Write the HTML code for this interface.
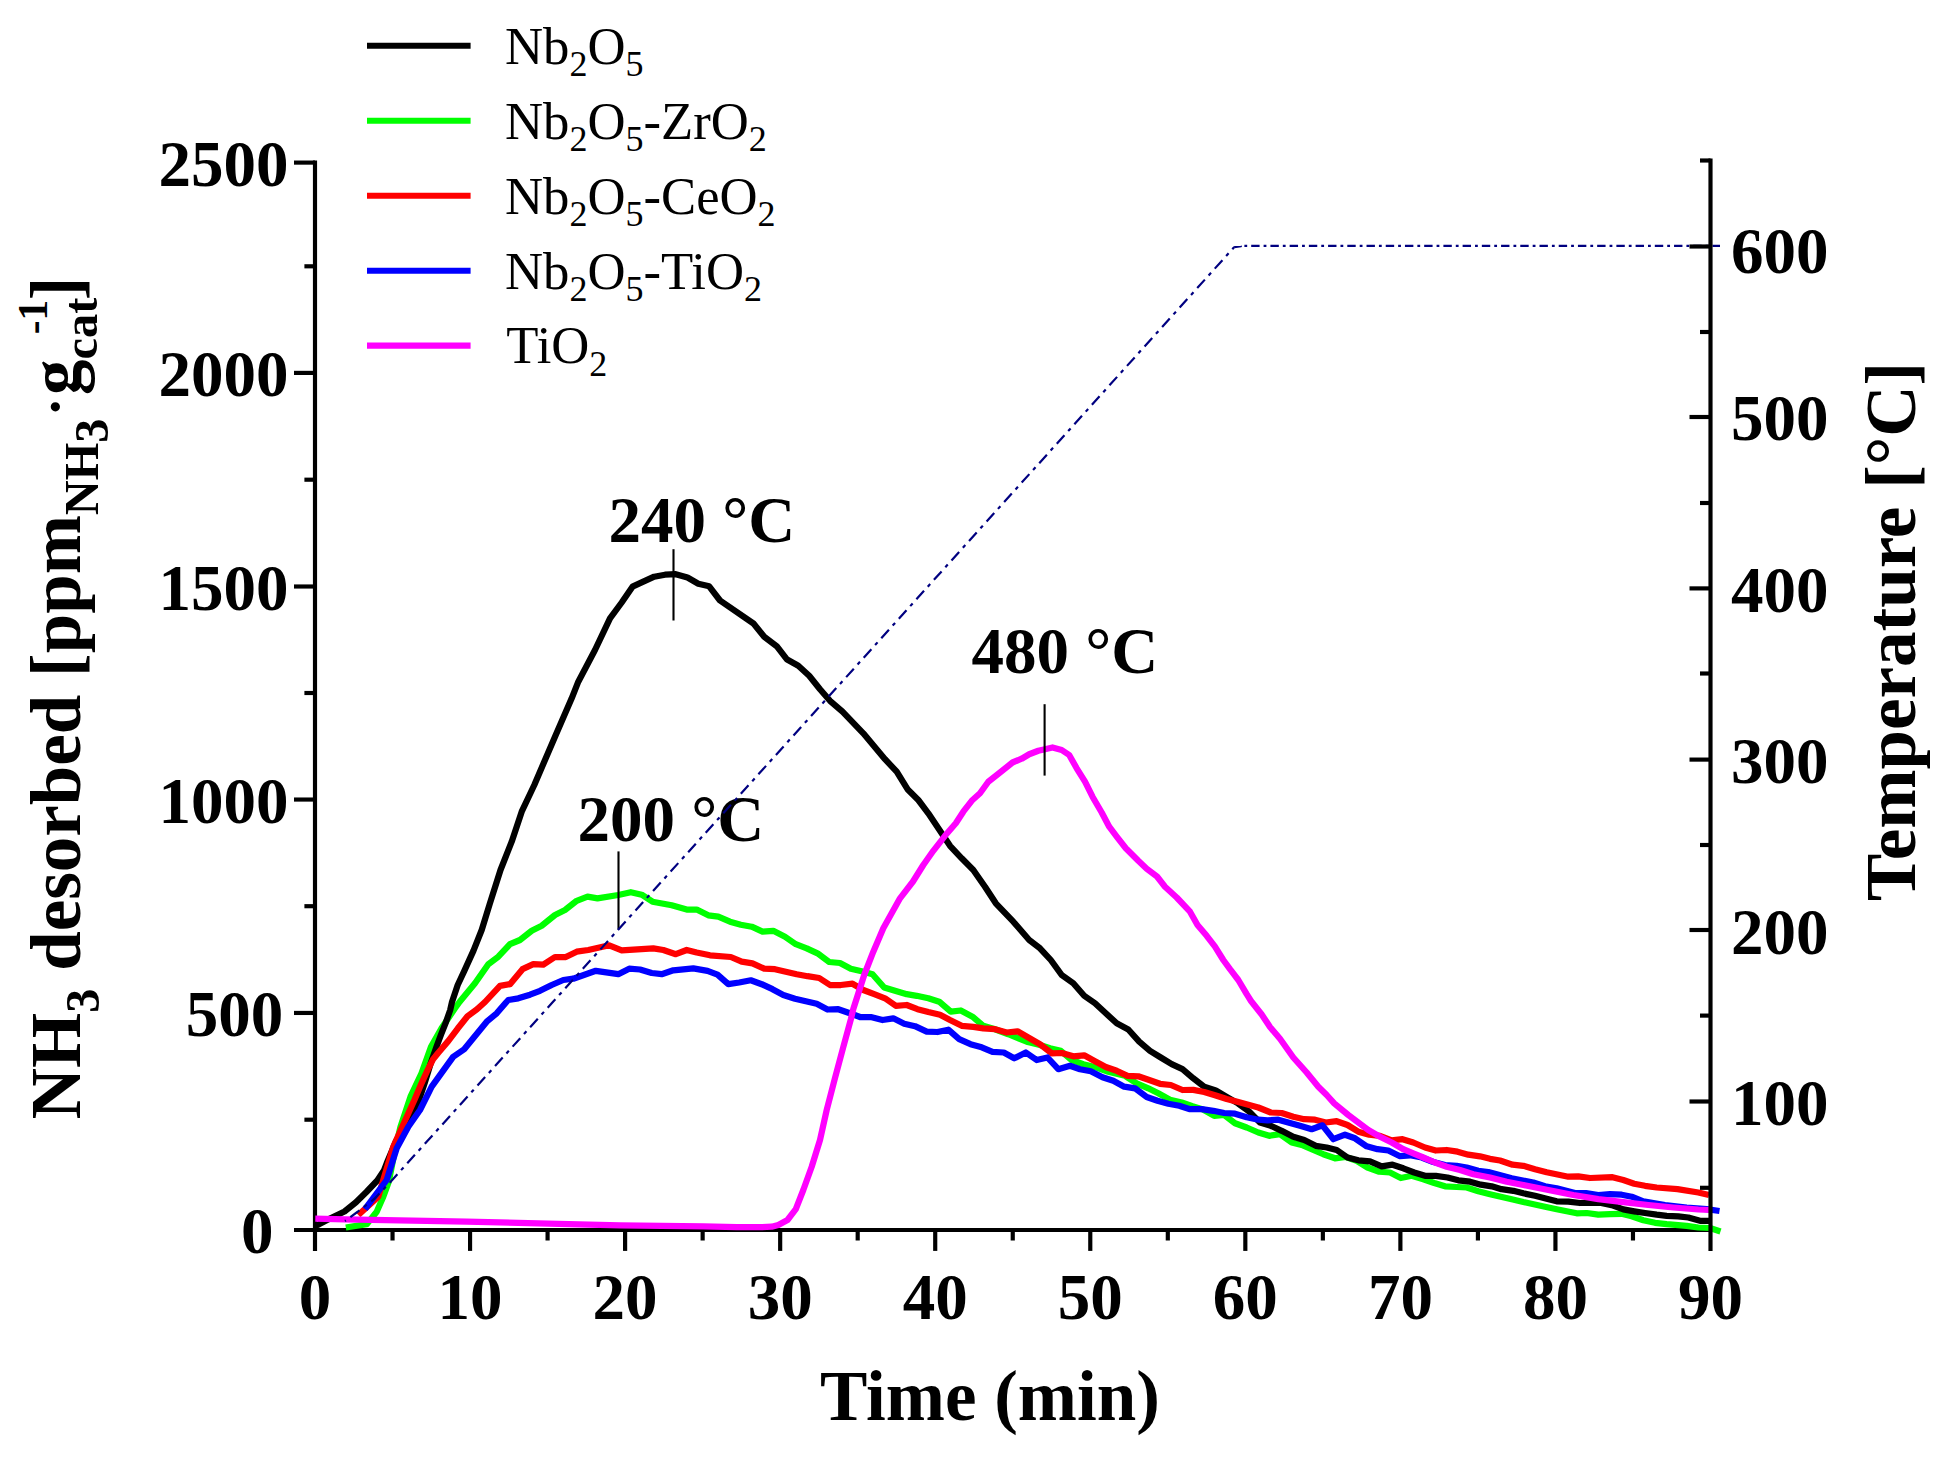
<!DOCTYPE html>
<html lang="en"><head><meta charset="utf-8"><title>NH3-TPD profiles</title>
<style>html,body{margin:0;padding:0;background:#fff}body{width:1956px;height:1458px;overflow:hidden}</style></head>
<body>
<svg width="1956" height="1458" viewBox="0 0 1956 1458" style="display:block">
<rect width="1956" height="1458" fill="#fff"/>
<g stroke="#000" stroke-width="4.17" fill="none" stroke-linecap="butt">
<line x1="315.0" y1="160.4" x2="315.0" y2="1250.9"/>
<line x1="294" y1="1230.0" x2="1712.58" y2="1230.0"/>
<line x1="294" y1="162.6" x2="315.0" y2="162.6"/>
<line x1="294" y1="372.9" x2="315.0" y2="372.9"/>
<line x1="294" y1="586.5" x2="315.0" y2="586.5"/>
<line x1="294" y1="799.55" x2="315.0" y2="799.55"/>
<line x1="294" y1="1012.95" x2="315.0" y2="1012.95"/>
<line x1="304.4" y1="266.3" x2="315.0" y2="266.3"/>
<line x1="304.4" y1="479.7" x2="315.0" y2="479.7"/>
<line x1="304.4" y1="693.0" x2="315.0" y2="693.0"/>
<line x1="304.4" y1="906.2" x2="315.0" y2="906.2"/>
<line x1="304.4" y1="1119.7" x2="315.0" y2="1119.7"/>
<line x1="470.06" y1="1230.0" x2="470.06" y2="1250.9"/>
<line x1="625.11" y1="1230.0" x2="625.11" y2="1250.9"/>
<line x1="780.17" y1="1230.0" x2="780.17" y2="1250.9"/>
<line x1="935.22" y1="1230.0" x2="935.22" y2="1250.9"/>
<line x1="1090.28" y1="1230.0" x2="1090.28" y2="1250.9"/>
<line x1="1245.33" y1="1230.0" x2="1245.33" y2="1250.9"/>
<line x1="1400.39" y1="1230.0" x2="1400.39" y2="1250.9"/>
<line x1="1555.44" y1="1230.0" x2="1555.44" y2="1250.9"/>
<line x1="392.53" y1="1230.0" x2="392.53" y2="1240.5"/>
<line x1="547.58" y1="1230.0" x2="547.58" y2="1240.5"/>
<line x1="702.64" y1="1230.0" x2="702.64" y2="1240.5"/>
<line x1="857.69" y1="1230.0" x2="857.69" y2="1240.5"/>
<line x1="1012.75" y1="1230.0" x2="1012.75" y2="1240.5"/>
<line x1="1167.81" y1="1230.0" x2="1167.81" y2="1240.5"/>
<line x1="1322.86" y1="1230.0" x2="1322.86" y2="1240.5"/>
<line x1="1477.92" y1="1230.0" x2="1477.92" y2="1240.5"/>
<line x1="1632.97" y1="1230.0" x2="1632.97" y2="1240.5"/>
</g>
<polyline points="345.8,1227.5 366.7,1224.2 376.7,1211.7 383.3,1196.7 388.8,1181.7 395.0,1150.0 400.5,1126.7 410.5,1096.7 421.5,1073.3 431.0,1046.7 441.5,1028.3 455.0,1008.3 459.5,1002.0 475.0,983.3 488.3,964.2 498.3,956.7 510.0,944.2 520.0,940.0 531.7,930.8 541.7,925.8 555.0,915.0 565.0,910.0 576.7,900.8 587.5,896.7 597.5,898.3 618.3,895.0 630.8,892.2 641.7,894.7 652.5,901.7 671.7,905.3 686.7,909.5 696.7,909.5 708.3,915.3 718.3,916.7 730.0,921.7 740.8,924.7 751.7,926.7 762.5,931.7 773.3,930.8 785.0,936.7 795.8,944.2 806.7,948.3 817.5,953.3 829.2,962.0 840.0,963.0 850.8,968.8 861.7,971.3 872.5,974.2 884.2,987.5 895.0,990.8 906.7,994.2 916.7,995.8 928.3,998.3 939.2,1001.7 950.8,1011.7 960.8,1010.5 972.5,1016.7 983.3,1025.8 995.0,1029.2 1008.3,1034.2 1026.7,1041.7 1040.0,1045.0 1050.0,1048.3 1060.8,1050.8 1071.7,1060.0 1083.3,1064.2 1096.7,1067.5 1108.3,1071.7 1125.0,1075.8 1136.7,1083.3 1148.3,1088.3 1158.3,1093.3 1170.0,1099.7 1181.7,1102.5 1192.5,1106.3 1203.0,1109.5 1214.2,1115.8 1224.2,1115.0 1235.0,1123.3 1246.7,1127.5 1258.3,1132.5 1269.2,1135.8 1280.0,1134.2 1291.7,1142.5 1301.7,1145.0 1313.3,1150.0 1323.3,1154.2 1335.0,1158.3 1345.8,1157.0 1356.7,1160.8 1367.5,1167.5 1379.2,1171.7 1390.0,1172.5 1400.8,1178.0 1411.7,1175.8 1423.3,1179.2 1434.2,1183.0 1445.0,1186.3 1456.7,1187.0 1466.7,1187.5 1478.3,1191.3 1490.0,1194.2 1511.7,1199.2 1523.3,1202.0 1545.0,1206.7 1556.7,1209.2 1576.7,1213.3 1586.7,1213.0 1598.3,1214.7 1610.0,1214.2 1621.7,1213.8 1631.7,1216.3 1643.3,1220.3 1655.0,1222.8 1666.7,1224.2 1686.7,1225.8 1698.3,1227.5 1710.0,1228.0 1720.5,1231.5" fill="none" stroke="#00ff00" stroke-width="6.25" stroke-linejoin="round" stroke-linecap="butt" />
<polyline points="315.3,1225.8 319.0,1224.3 330.0,1218.5 344.5,1211.5 356.0,1202.3 366.4,1192.0 377.3,1180.5 384.1,1170.2 386.7,1163.3 395.8,1141.7 406.7,1123.3 416.7,1106.7 424.6,1083.3 430.7,1063.3 436.4,1047.0 441.0,1034.7 445.9,1022.3 450.2,1010.0 452.0,1002.0 457.7,985.0 464.2,971.2 473.5,950.6 481.7,930.0 489.9,903.3 500.5,870.0 511.7,841.7 521.7,811.7 534.3,785.0 545.0,760.0 555.0,736.7 571.7,698.3 578.3,681.7 595.0,650.0 610.0,618.3 621.7,602.5 632.5,586.7 643.3,581.7 654.2,576.7 665.0,574.7 675.8,574.2 687.5,577.5 698.3,583.7 709.2,586.3 720.0,600.5 753.3,623.3 764.2,636.7 776.7,646.2 786.7,659.2 798.3,665.8 809.2,675.8 820.0,689.2 830.0,700.8 842.5,711.7 863.3,733.3 885.0,759.2 896.7,771.7 907.5,789.2 918.3,800.0 928.3,813.3 940.0,830.8 950.0,845.8 961.7,858.3 973.3,870.0 985.0,886.7 995.8,903.3 1013.3,921.7 1029.2,940.0 1040.0,948.3 1050.8,960.0 1061.7,975.0 1073.3,983.3 1084.2,995.8 1095.0,1003.3 1105.8,1013.3 1116.7,1023.3 1128.3,1029.5 1139.2,1041.7 1150.0,1050.8 1160.8,1057.5 1171.7,1064.2 1182.5,1069.2 1193.3,1078.3 1204.2,1086.7 1215.8,1090.4 1226.7,1096.9 1238.0,1103.4 1248.8,1111.2 1260.0,1122.5 1270.8,1125.8 1281.7,1130.8 1293.3,1136.7 1304.2,1140.0 1315.8,1145.8 1326.7,1147.5 1336.7,1150.0 1347.5,1157.5 1358.3,1160.3 1370.0,1161.3 1381.7,1166.3 1392.5,1164.7 1403.3,1168.3 1414.2,1172.5 1425.0,1175.8 1435.8,1175.8 1447.5,1177.5 1458.3,1180.3 1470.0,1181.7 1480.8,1184.7 1491.7,1186.3 1501.5,1189.2 1513.3,1190.8 1523.3,1193.3 1535.0,1195.8 1546.7,1198.7 1556.7,1201.3 1568.3,1201.7 1580.0,1203.0 1600.0,1202.6 1611.7,1205.1 1623.3,1209.4 1634.2,1211.3 1645.0,1213.0 1656.7,1214.7 1666.7,1215.8 1678.3,1216.3 1688.3,1217.5 1700.0,1220.8 1709.5,1220.8" fill="none" stroke="#000000" stroke-width="6.25" stroke-linejoin="round" stroke-linecap="butt" />
<polyline points="358.3,1215.0 378.3,1196.7 383.3,1180.0 393.3,1146.7 400.0,1131.7 414.4,1100.0 421.2,1084.1 426.8,1071.7 433.0,1059.4 437.9,1053.2 448.4,1040.9 457.7,1028.5 467.5,1016.2 477.0,1009.3 485.0,1002.0 500.0,985.8 510.0,984.2 522.5,969.2 533.3,964.2 543.3,964.7 555.0,957.0 565.8,957.0 576.7,951.7 588.3,950.0 609.2,945.3 621.7,950.3 653.3,948.3 663.3,950.0 675.8,954.2 686.7,950.0 696.7,952.5 710.0,955.3 730.8,957.0 741.7,961.7 752.5,963.3 764.2,968.7 775.0,969.2 785.8,971.7 796.7,974.2 807.5,976.2 819.2,978.0 830.0,985.0 840.8,985.0 852.5,983.7 863.3,990.0 874.2,994.2 885.0,998.3 895.8,1005.8 906.7,1005.0 917.5,1009.2 928.3,1012.0 940.0,1014.7 950.0,1020.0 961.7,1025.8 973.3,1026.8 983.3,1028.3 995.0,1029.2 1006.7,1032.5 1017.5,1031.3 1028.3,1037.5 1040.0,1044.2 1051.7,1053.3 1061.7,1053.0 1073.3,1056.3 1084.2,1055.3 1095.0,1061.3 1105.8,1067.0 1116.7,1070.8 1127.5,1075.8 1138.3,1076.3 1149.2,1080.0 1160.0,1083.8 1170.8,1085.0 1182.5,1090.0 1193.3,1089.9 1204.2,1092.0 1215.0,1095.2 1226.7,1099.0 1238.3,1102.1 1258.3,1107.5 1270.8,1112.5 1281.7,1113.0 1293.3,1116.7 1304.2,1119.2 1315.0,1119.7 1325.8,1122.5 1336.7,1121.2 1347.5,1125.0 1358.3,1131.7 1369.2,1134.7 1380.0,1135.8 1391.7,1140.3 1402.5,1139.2 1413.3,1142.5 1425.0,1147.5 1435.8,1150.5 1446.7,1150.0 1457.5,1151.7 1468.3,1154.7 1480.0,1156.3 1490.0,1158.8 1500.0,1160.5 1512.5,1164.7 1523.3,1165.8 1535.0,1169.2 1546.7,1172.2 1568.3,1176.7 1578.3,1176.3 1590.0,1178.0 1612.5,1177.2 1623.3,1180.0 1634.2,1183.7 1645.0,1185.8 1656.7,1187.5 1677.5,1189.2 1698.3,1192.5 1709.0,1195.0" fill="none" stroke="#ff0000" stroke-width="6.25" stroke-linejoin="round" stroke-linecap="butt" />
<polyline points="365.0,1209.2 386.7,1180.0 396.7,1148.3 408.3,1126.7 420.0,1110.0 431.7,1086.7 453.3,1056.7 464.2,1049.2 486.7,1021.7 496.7,1013.3 506.0,1002.5 508.3,1000.0 518.3,998.3 530.0,994.7 540.0,990.8 551.7,985.0 563.3,980.0 573.3,978.7 595.8,970.8 618.3,974.2 629.2,968.7 640.0,969.5 651.7,973.0 661.7,974.2 673.3,970.3 693.3,968.3 707.5,970.8 717.5,974.7 728.3,984.2 739.2,982.5 750.8,980.3 761.7,984.2 772.5,989.2 783.3,995.0 795.0,998.7 805.8,1001.3 816.7,1003.8 827.5,1009.5 838.3,1009.2 849.2,1013.0 860.0,1017.0 870.8,1017.0 882.5,1020.0 893.3,1018.3 904.2,1023.7 915.0,1026.2 926.7,1031.7 937.5,1032.0 948.3,1029.7 959.2,1039.2 970.5,1044.2 981.7,1047.3 992.5,1051.9 1003.8,1052.5 1014.2,1058.3 1025.8,1052.5 1036.7,1060.0 1047.5,1057.5 1058.3,1069.2 1070.0,1065.8 1080.0,1069.2 1090.8,1071.3 1102.5,1077.2 1113.3,1080.8 1124.2,1086.7 1135.0,1088.3 1146.7,1097.0 1157.5,1100.8 1168.3,1103.8 1179.2,1105.8 1190.0,1109.2 1201.7,1109.2 1213.3,1110.8 1224.2,1113.0 1235.0,1113.7 1246.7,1117.2 1258.3,1119.7 1267.5,1120.3 1278.3,1119.7 1290.0,1123.0 1300.0,1125.8 1311.7,1129.2 1322.5,1125.3 1333.3,1139.2 1345.0,1134.7 1355.0,1138.3 1366.7,1146.3 1377.5,1149.2 1388.3,1150.5 1400.0,1156.2 1410.0,1155.3 1421.7,1157.5 1433.3,1162.0 1445.0,1165.0 1456.7,1165.8 1466.7,1167.5 1478.3,1170.8 1488.3,1172.0 1511.7,1178.3 1533.3,1182.5 1545.0,1186.3 1556.7,1188.3 1575.0,1193.0 1586.0,1193.2 1598.3,1195.0 1610.0,1194.2 1621.7,1194.7 1631.7,1196.7 1643.3,1201.3 1665.0,1205.0 1686.7,1207.5 1706.7,1209.2 1719.5,1211.0" fill="none" stroke="#0000ff" stroke-width="6.25" stroke-linejoin="round" stroke-linecap="butt" />
<polyline points="315.3,1218.7 345.0,1219.3 466.7,1221.7 620.0,1225.3 703.3,1226.3 736.7,1227.2 761.7,1227.2 771.7,1226.7 778.3,1225.0 787.5,1220.0 795.8,1209.2 803.3,1190.0 811.7,1166.7 820.0,1140.0 826.7,1110.0 835.0,1078.0 843.3,1047.0 850.8,1019.5 853.3,1009.0 864.2,975.0 873.3,951.7 883.3,928.3 900.0,898.3 913.0,881.5 923.3,865.0 933.3,850.8 945.0,835.8 955.8,823.3 963.3,811.7 971.7,800.8 980.0,793.3 988.3,781.7 1000.0,772.5 1012.5,762.5 1021.7,758.7 1029.2,754.2 1038.3,750.8 1045.0,749.2 1052.5,747.5 1061.7,750.0 1069.2,755.0 1076.7,768.3 1085.0,781.7 1092.5,796.7 1101.7,812.5 1109.2,826.7 1116.7,836.7 1125.8,848.3 1138.3,860.8 1146.7,868.8 1157.0,876.5 1165.0,886.7 1176.7,897.5 1190.0,911.7 1197.5,925.0 1206.7,935.8 1215.0,946.7 1223.3,960.0 1230.0,969.2 1238.3,980.0 1246.7,994.2 1251.0,1001.0 1261.7,1014.5 1270.0,1027.0 1280.0,1038.8 1293.3,1057.5 1306.7,1072.5 1318.3,1086.7 1326.7,1095.0 1334.2,1103.3 1348.3,1115.0 1358.3,1122.5 1368.3,1130.0 1380.0,1136.7 1391.7,1142.5 1403.3,1149.2 1413.3,1153.3 1423.3,1157.5 1435.0,1162.5 1446.7,1166.7 1460.0,1170.0 1473.3,1174.2 1490.0,1177.5 1506.7,1181.7 1523.3,1185.0 1548.3,1190.0 1573.3,1195.0 1598.3,1199.2 1623.3,1202.2 1648.3,1205.0 1673.3,1207.5 1698.3,1209.5 1709.5,1210.0" fill="none" stroke="#ff00ff" stroke-width="6.25" stroke-linejoin="round" stroke-linecap="butt" />
<line x1="367" y1="45.7" x2="470.6" y2="45.7" stroke="#000000" stroke-width="6.1"/>
<line x1="367" y1="120.7" x2="470.6" y2="120.7" stroke="#00ff00" stroke-width="6.1"/>
<line x1="367" y1="195.8" x2="470.6" y2="195.8" stroke="#ff0000" stroke-width="6.1"/>
<line x1="367" y1="270.7" x2="470.6" y2="270.7" stroke="#0000ff" stroke-width="6.1"/>
<line x1="367" y1="345.6" x2="470.6" y2="345.6" stroke="#ff00ff" stroke-width="6.1"/>
<text x="505" y="63.5" font-family="'Liberation Serif', 'Times New Roman', serif" font-size="52.7" fill="#000">Nb<tspan font-size="36" dy="12.4">2</tspan><tspan dy="-12.4">O</tspan><tspan font-size="36" dy="12.4">5</tspan></text>
<text x="505" y="138.5" font-family="'Liberation Serif', 'Times New Roman', serif" font-size="52.7" fill="#000">Nb<tspan font-size="36" dy="12.4">2</tspan><tspan dy="-12.4">O</tspan><tspan font-size="36" dy="12.4">5</tspan><tspan dy="-12.4">-ZrO</tspan><tspan font-size="36" dy="12.4">2</tspan></text>
<text x="505" y="213.6" font-family="'Liberation Serif', 'Times New Roman', serif" font-size="52.7" fill="#000">Nb<tspan font-size="36" dy="12.4">2</tspan><tspan dy="-12.4">O</tspan><tspan font-size="36" dy="12.4">5</tspan><tspan dy="-12.4">-CeO</tspan><tspan font-size="36" dy="12.4">2</tspan></text>
<text x="505" y="288.5" font-family="'Liberation Serif', 'Times New Roman', serif" font-size="52.7" fill="#000">Nb<tspan font-size="36" dy="12.4">2</tspan><tspan dy="-12.4">O</tspan><tspan font-size="36" dy="12.4">5</tspan><tspan dy="-12.4">-TiO</tspan><tspan font-size="36" dy="12.4">2</tspan></text>
<text x="506.3" y="363.4" font-family="'Liberation Serif', 'Times New Roman', serif" font-size="52.7" fill="#000">TiO<tspan font-size="36" dy="12.4">2</tspan></text>
<text x="288.4" y="186.10" text-anchor="end" font-size="65" font-family="'Liberation Serif', 'Times New Roman', serif" font-weight="bold" fill="#000">2500</text>
<text x="288.4" y="396.40" text-anchor="end" font-size="65" font-family="'Liberation Serif', 'Times New Roman', serif" font-weight="bold" fill="#000">2000</text>
<text x="288.4" y="610.00" text-anchor="end" font-size="65" font-family="'Liberation Serif', 'Times New Roman', serif" font-weight="bold" fill="#000">1500</text>
<text x="288.4" y="823.05" text-anchor="end" font-size="65" font-family="'Liberation Serif', 'Times New Roman', serif" font-weight="bold" fill="#000">1000</text>
<text x="283.3" y="1036.45" text-anchor="end" font-size="65" font-family="'Liberation Serif', 'Times New Roman', serif" font-weight="bold" fill="#000">500</text>
<text x="273.5" y="1252.80" text-anchor="end" font-size="65" font-family="'Liberation Serif', 'Times New Roman', serif" font-weight="bold" fill="#000">0</text>
<text x="315.00" y="1319" text-anchor="middle" font-size="65" font-family="'Liberation Serif', 'Times New Roman', serif" font-weight="bold" fill="#000">0</text>
<text x="470.06" y="1319" text-anchor="middle" font-size="65" font-family="'Liberation Serif', 'Times New Roman', serif" font-weight="bold" fill="#000">10</text>
<text x="625.11" y="1319" text-anchor="middle" font-size="65" font-family="'Liberation Serif', 'Times New Roman', serif" font-weight="bold" fill="#000">20</text>
<text x="780.17" y="1319" text-anchor="middle" font-size="65" font-family="'Liberation Serif', 'Times New Roman', serif" font-weight="bold" fill="#000">30</text>
<text x="935.22" y="1319" text-anchor="middle" font-size="65" font-family="'Liberation Serif', 'Times New Roman', serif" font-weight="bold" fill="#000">40</text>
<text x="1090.28" y="1319" text-anchor="middle" font-size="65" font-family="'Liberation Serif', 'Times New Roman', serif" font-weight="bold" fill="#000">50</text>
<text x="1245.33" y="1319" text-anchor="middle" font-size="65" font-family="'Liberation Serif', 'Times New Roman', serif" font-weight="bold" fill="#000">60</text>
<text x="1400.39" y="1319" text-anchor="middle" font-size="65" font-family="'Liberation Serif', 'Times New Roman', serif" font-weight="bold" fill="#000">70</text>
<text x="1555.44" y="1319" text-anchor="middle" font-size="65" font-family="'Liberation Serif', 'Times New Roman', serif" font-weight="bold" fill="#000">80</text>
<text x="1710.50" y="1319" text-anchor="middle" font-size="65" font-family="'Liberation Serif', 'Times New Roman', serif" font-weight="bold" fill="#000">90</text>
<text x="1731" y="273.30" font-size="65" font-family="'Liberation Serif', 'Times New Roman', serif" font-weight="bold" fill="#000">600</text>
<text x="1731" y="440.00" font-size="65" font-family="'Liberation Serif', 'Times New Roman', serif" font-weight="bold" fill="#000">500</text>
<text x="1731" y="612.20" font-size="65" font-family="'Liberation Serif', 'Times New Roman', serif" font-weight="bold" fill="#000">400</text>
<text x="1731" y="783.00" font-size="65" font-family="'Liberation Serif', 'Times New Roman', serif" font-weight="bold" fill="#000">300</text>
<text x="1731" y="954.20" font-size="65" font-family="'Liberation Serif', 'Times New Roman', serif" font-weight="bold" fill="#000">200</text>
<text x="1731" y="1125.20" font-size="65" font-family="'Liberation Serif', 'Times New Roman', serif" font-weight="bold" fill="#000">100</text>
<text x="608.6" y="542" font-size="65" font-family="'Liberation Serif', 'Times New Roman', serif" font-weight="bold" fill="#000">240 °C</text>
<text x="971.5" y="673.3" font-size="65" font-family="'Liberation Serif', 'Times New Roman', serif" font-weight="bold" fill="#000">480 °C</text>
<text x="577.5" y="840.6" font-size="65" font-family="'Liberation Serif', 'Times New Roman', serif" font-weight="bold" fill="#000">200 °C</text>
<g stroke="#000" stroke-width="2.1">
<line x1="673.5" y1="549.2" x2="673.5" y2="620.5"/>
<line x1="1044.6" y1="704.2" x2="1044.6" y2="775.6"/>
<line x1="618.5" y1="851.4" x2="618.5" y2="929.4"/>
</g>
<text x="820" y="1419.7" font-size="71" font-family="'Liberation Serif', 'Times New Roman', serif" font-weight="bold" fill="#000">Time (min)</text>
<text transform="translate(1915,901) rotate(-90)" font-size="71" font-family="'Liberation Serif', 'Times New Roman', serif" font-weight="bold" fill="#000">Temperature [°C]</text>
<g transform="translate(80.3,1119.25) rotate(-90)"><text x="0" y="0" font-size="71" font-family="'Liberation Serif', 'Times New Roman', serif" font-weight="bold" fill="#000">NH<tspan font-size="48.3" dy="18.5">3</tspan><tspan dy="-18.5"> desorbed [ppm</tspan><tspan font-size="48.3" dy="17.6">NH</tspan><tspan font-size="48.3" dy="10.2">3</tspan><tspan dy="-33.9" dx="2.35" font-size="57">·</tspan><tspan dy="6.1" dx="2.35">g</tspan><tspan font-size="48.3" dy="17">cat</tspan><tspan dy="-17" dx="-2.5">]</tspan></text><text x="785" y="-33.3" font-size="41.4" font-family="'Liberation Serif', 'Times New Roman', serif" font-weight="bold" fill="#000">-1</text></g>
<g fill="none" stroke="#000080" stroke-width="2.2" stroke-linejoin="round">
<polyline points="1234.2,247.1 843.3,680.3 551.7,1003.3 390.2,1182.2 374.0,1199.2 358.0,1211.5 345.0,1221.0" stroke-dasharray="11.4 5.6 3.6 5.6" stroke-dashoffset="8.6"/>
<polyline points="1234.2,247.1 1241.2,246.1 1241.6,245.9"/>
<line x1="1241.2" y1="245.9" x2="1720" y2="245.9" stroke-dasharray="8.4 4 2.8 4.02" stroke-dashoffset="9.22"/>
</g>
<g stroke="#000" stroke-width="4.17" fill="none" stroke-linecap="butt">
<line x1="1710.5" y1="158.5" x2="1710.5" y2="1250.9"/>
<line x1="1689.5" y1="246.5" x2="1710.5" y2="246.5"/>
<line x1="1689.5" y1="417.0" x2="1710.5" y2="417.0"/>
<line x1="1689.5" y1="588.4" x2="1710.5" y2="588.4"/>
<line x1="1689.5" y1="759.6" x2="1710.5" y2="759.6"/>
<line x1="1689.5" y1="930.0" x2="1710.5" y2="930.0"/>
<line x1="1689.5" y1="1101.5" x2="1710.5" y2="1101.5"/>
<line x1="1700" y1="160.5" x2="1710.5" y2="160.5"/>
<line x1="1700" y1="332.0" x2="1710.5" y2="332.0"/>
<line x1="1700" y1="503.0" x2="1710.5" y2="503.0"/>
<line x1="1700" y1="673.5" x2="1710.5" y2="673.5"/>
<line x1="1700" y1="845.0" x2="1710.5" y2="845.0"/>
<line x1="1700" y1="1015.6" x2="1710.5" y2="1015.6"/>
<line x1="1700" y1="1187.8" x2="1710.5" y2="1187.8"/>
</g>
</svg>
</body></html>
